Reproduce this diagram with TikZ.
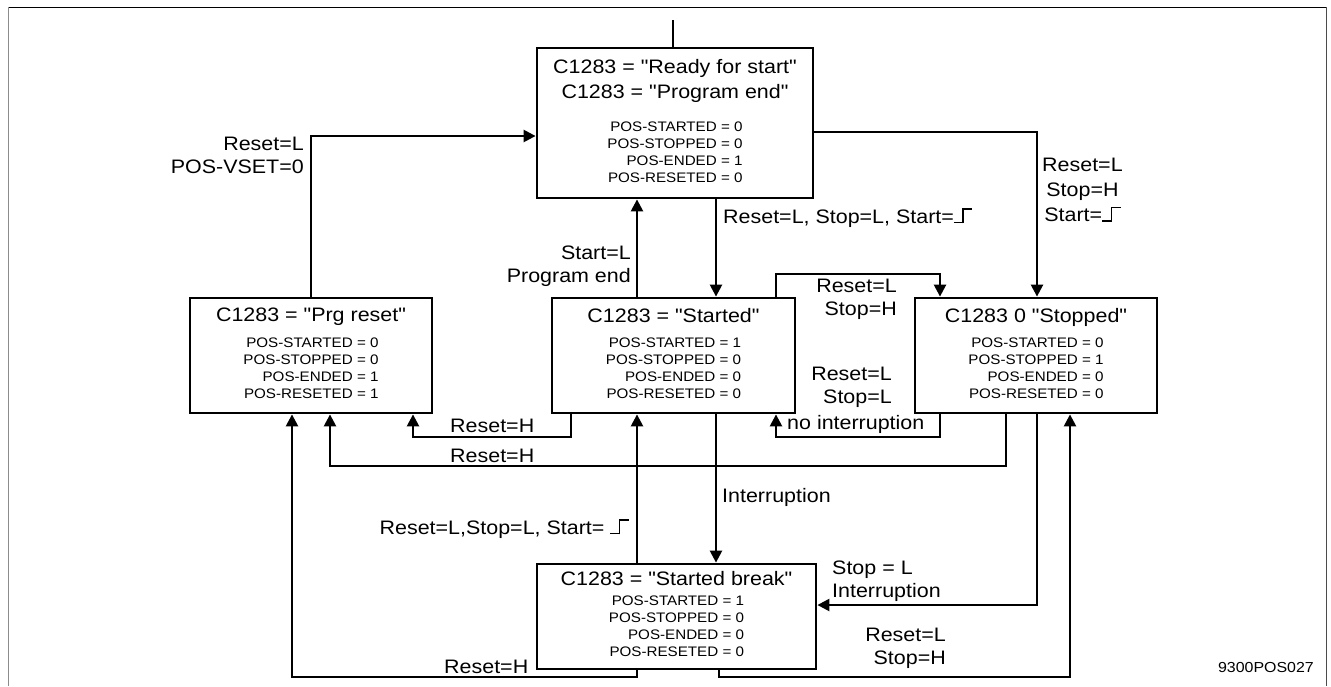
\documentclass[tikz,border=0pt]{standalone}
\usepackage{fontspec}
\setmainfont{Liberation Sans}[FakeStretch=1.1,Ligatures=TeXOff]
\usetikzlibrary{arrows.meta}

\newcommand{\titlefont}{\fontsize{19.5}{25}\selectfont}
\newcommand{\lblfont}{\fontsize{19.5}{23}\selectfont}
\newcommand{\flagfont}{\fontsize{13.8}{17}\selectfont}
\newcommand{\tagfont}{\fontsize{14.5}{17}\selectfont}
% rising edge of the start input
\newcommand{\risingedge}{\rule{8.5pt}{1.4pt}\rule{1.4pt}{15pt}\rule[13.6pt]{8.5pt}{1.4pt}}
% the four status outputs of a state
\newcommand{\flags}[4]{{\flagfont\begin{tabular}[t]{@{}r@{}}POS-STARTED = #1\\POS-STOPPED = #2\\POS-ENDED = #3\\POS-RESETED = #4\end{tabular}}}

\tikzset{
  state/.style={draw, line width=2.8pt, align=center, font=\titlefont, inner sep=0pt},
  wire/.style={line width=2.4pt},
  conn/.style={wire, -{Triangle[length=12pt,width=12pt]}},
  lbl/.style={font=\lblfont, inner sep=0pt},
}

\begin{document}
\begin{tikzpicture}[x=1pt,y=-1pt]
\useasboundingbox (0,0) rectangle (1331,686);
% frame
\draw[line width=1pt] (8,7) -- (1326,7);
\draw[line width=1pt,black!45] (8,7) -- (8,686);
\draw[line width=1pt,black!70] (1326,7) -- (1326,686);

% states
\node[state,minimum width=276pt,minimum height=150pt] (ready) at (675,123)
  {C1283 = "Ready for start"\\C1283 = "Program end"\\[8pt]\flags0010};
\node[state,minimum width=242pt,minimum height=115pt] (prg) at (311,355.5)
  {C1283 = "Prg reset"\\[1pt]\flags0011};
\node[state,minimum width=243pt,minimum height=115pt] (started) at (673.5,355.5)
  {C1283 = "Started"\\\flags1000};
\node[state,minimum width=242pt,minimum height=115pt] (stopped) at (1036,355.5)
  {C1283 0 "Stopped"\\\flags0100};
\node[state,minimum width=279pt,minimum height=105pt] (brk) at (676.5,616.5)
  {C1283 = "Started break"\\[-5pt]\flags1000};

% transitions
\coordinate (entry) at (673,20);
\draw[wire] (entry) -- (entry |- ready.north);
\draw[conn] (311,0 |- prg.north) |- (ready.west |- 0,136);
\draw[conn] (ready.east |- 0,132) -| (1037,0 |- stopped.north);
\draw[conn] (637,0 |- started.north) -- (637,0 |- ready.south);
\draw[conn] (716,0 |- ready.south) -- (716,0 |- started.north);
\draw[conn] (776,0 |- started.north) -- (776,274) -- (940,274) -- (940,0 |- stopped.north);
\draw[conn] (940,0 |- stopped.south) -- (940,437) -- (776,437) -- (776,0 |- started.south);
\draw[conn] (571,0 |- started.south) -- (571,437) -- (413,437) -- (413,0 |- prg.south);
\draw[conn] (1006,0 |- stopped.south) -- (1006,466) -- (330,466) -- (330,0 |- prg.south);
\draw[conn] (716,0 |- started.south) -- (716,0 |- brk.north);
\draw[conn] (637,0 |- brk.north) -- (637,0 |- started.south);
\draw[conn] (637,0 |- brk.south) -- (637,677) -- (292,677) -- (292,0 |- prg.south);
\draw[conn] (719,0 |- brk.south) -- (719,677) -- (1070,677) -- (1070,0 |- stopped.south);
\draw[conn] (1037,0 |- stopped.south) -- (1037,605) -- (brk.east |- 0,605);

% conditions
\node[lbl,anchor=east,align=right] (vset) at (304,155) {Reset=L\\POS-VSET=0};
\node[lbl,anchor=west] (goStart) at (723,218) {Reset=L, Stop=L, Start=\risingedge};
\node[lbl,anchor=west,align=center] (goStop) at (1042,190) {Reset=L\\[2pt]Stop=H\\[2pt]Start=\risingedge};
\node[lbl,anchor=east,align=right] (progEnd) at (631,266) {Start=L\\Program end};
\node[lbl,anchor=east,align=right] (stopH) at (897,299) {Reset=L\\Stop=H};
\node[lbl,anchor=east,align=right] (stopL) at (892,387) {Reset=L\\Stop=L};
\node[lbl,anchor=west] (noInt) at (787,424) {no interruption};
\node[lbl,anchor=west] (resetA) at (450,426) {Reset=H};
\node[lbl,anchor=west] (resetB) at (450,456) {Reset=H};
\node[lbl,anchor=west] (intr) at (722,497) {Interruption};
\node[lbl,anchor=east] (restart) at (629,529) {Reset=L,Stop=L, Start= \risingedge};
\node[lbl,anchor=west] (resetC) at (444,667) {Reset=H};
\node[lbl,anchor=west,align=left] (brkStop) at (832,581) {Stop = L\\Interruption};
\node[lbl,anchor=east,align=right] (resume) at (946,648) {Reset=L\\Stop=H};
\node[font=\tagfont,anchor=east,inner sep=0pt] (tag) at (1314,667) {9300POS027};
\end{tikzpicture}
\end{document}
